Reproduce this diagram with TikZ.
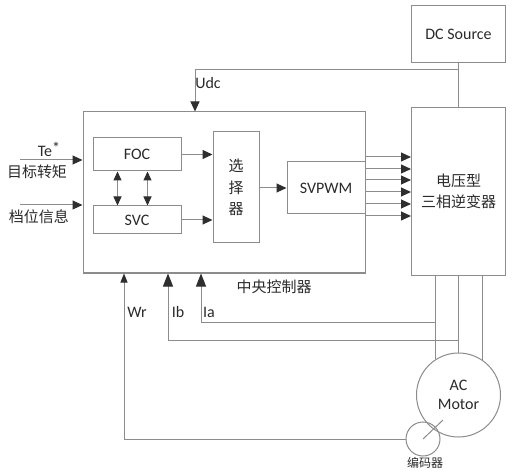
\documentclass[tikz,border=0pt]{standalone}
\usepackage{fontspec}
\setmainfont{Carlito}
\newfontfamily\cjk{Noto Sans CJK SC}
\usetikzlibrary{arrows.meta,calc}
\definecolor{lgray}{HTML}{8C8C8C}
\definecolor{dgray}{HTML}{2E2E2E}
\definecolor{tgray}{HTML}{2A2A2A}
\begin{document}
\begin{tikzpicture}[x=1pt,y=-1pt,
  line/.style={draw=lgray, line width=1pt},
  box/.style={draw=lgray, line width=1pt, rectangle, inner sep=0pt, text=tgray,
    font=\fontsize{16}{18}\selectfont},
  lab/.style={text=tgray, inner sep=0pt, font=\fontsize{16}{18}\selectfont},
  cjklab/.style={text=tgray, inner sep=0pt, font=\cjk\fontsize{15}{21}\selectfont},
  arr/.style={line, -{Triangle[length=10pt,width=9pt,color=dgray]}},
  bigarr/.style={line, -{Triangle[length=13pt,width=10pt,color=dgray]}},
  smallarr/.style={line, -{Triangle[length=9pt,width=7pt,color=dgray]}},
  darr/.style={line, {Triangle[length=9pt,width=8pt,color=dgray]}-{Triangle[length=9pt,width=8pt,color=dgray]}}
]
\useasboundingbox (0,0) rectangle (512,476);

% boxes
\node[box, minimum width=282pt, minimum height=161pt] (ctrl) at (224,192.5) {};
\node[box, minimum width=88pt, minimum height=33pt] (foc) at (137,154.5) {FOC};
\node[box, minimum width=88pt, minimum height=28pt] (svc) at (137,220) {SVC};
\node[box, minimum width=46pt, minimum height=111pt, font=\cjk\fontsize{15}{21.5}\selectfont, align=center] (sel) at (236,187.5) {选\\择\\器};
\node[box, minimum width=78pt, minimum height=52pt] (svpwm) at (326,188) {SVPWM};
\node[box, minimum width=94pt, minimum height=167pt, font=\cjk\fontsize{15}{21}\selectfont, align=center] (inv) at (458.5,191.5) {电压型\\三相逆变器};
\node[box, minimum width=94pt, minimum height=57pt] (dc) at (458.5,34.5) {DC Source};
\node[box, circle, minimum size=84pt, align=center, font=\fontsize{16}{19}\selectfont] (motor) at (458.5,395) {AC\\Motor};
\node[box, circle, minimum size=34pt] (enc) at (423,439) {};

% labels
\node[cjklab] (ctrllab) at (274,287) {中央控制器};
\node[cjklab, font=\cjk\fontsize{12}{14}\selectfont] (enclab) at (425,463) {编码器};
\node[lab, anchor=base] (telab) at (49,157) {Te\raisebox{0.5ex}{*}};
\node[cjklab] (mbzj) at (37,172) {目标转矩};
\node[cjklab] (dwxx) at (39,217) {档位信息};
\node[lab] (udclab) at (208,83) {Udc};
\node[lab] (wrlab) at (137,312) {Wr};
\node[lab] (iblab) at (178,312) {Ib};
\node[lab] (ialab) at (209,312) {Ia};

% helper coordinates
\coordinate (tein) at (20,160);
\coordinate (dwin) at (20,205);
\coordinate (udcj) at (458.5,70);
\coordinate (udcx) at (195,0);
\coordinate (wrx) at (124,0);
\coordinate (ibx) at (168,0);
\coordinate (iax) at (201,0);
\coordinate (iby) at (0,340);
\coordinate (iay) at (0,322);

% inputs
\draw[arr] (tein) -- (tein -| ctrl.west);
\draw[arr] (dwin) -- (dwin -| ctrl.west);

% DC
\draw[line] (dc.south) -- (inv.north);
\draw[arr] (udcj) -| (udcx |- ctrl.north);

% internal
\draw[arr] (foc.east) -- (foc.east -| sel.west);
\draw[arr] (svc.east) -- (svc.east -| sel.west);
\draw[arr] (sel.east |- svpwm.west) -- (svpwm.west);
\draw[darr] ($(foc.south west)+(25,0)$) -- ($(svc.north west)+(25,0)$);
\draw[darr] ($(foc.south west)+(55,0)$) -- ($(svc.north west)+(55,0)$);

% PWM signals
\foreach \d in {-31,-19,-8,4,16,28}
  \draw[arr] ($(svpwm.east)+(0,\d)$) coordinate (s) -- (s -| inv.west);

% phases
\draw[line] (motor.123 |- inv.south) -- (motor.123);
\draw[line] (motor.north |- inv.south) -- (motor.north);
\draw[line] (motor.56 |- inv.south) -- (motor.56);

% feedback
\draw[bigarr] (motor.123 |- iay) -| (iax |- ctrl.south);
\draw[bigarr] (motor.north |- iby) -| (ibx |- ctrl.south);
\draw[smallarr] (enc.west) -| (wrx |- ctrl.south);

% encoder shaft
\draw[line] (enc.center) -- ($(enc.center)+(20,-19)$);
\end{tikzpicture}
\end{document}
